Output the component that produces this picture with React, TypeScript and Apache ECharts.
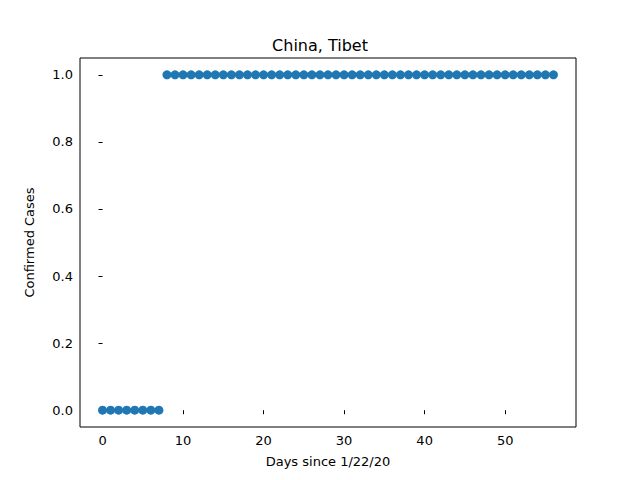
import React, { useEffect, useRef } from "react";
import * as echarts from "echarts";

const days: number[] = Array.from({ length: 57 }, (_, i) => i);
const cases: number[] = [
  0, 0, 0, 0, 0, 0, 0, 0,
  1, 1, 1, 1, 1, 1, 1, 1, 1, 1, 1, 1, 1, 1, 1, 1, 1, 1, 1, 1, 1, 1, 1, 1, 1, 1, 1, 1, 1, 1, 1, 1, 1, 1, 1, 1, 1, 1, 1, 1, 1, 1, 1, 1, 1, 1, 1, 1, 1,
];
const xTicks = [0, 10, 20, 30, 40, 50];
const yTicks = [0, 0.2, 0.4, 0.6, 0.8, 1.0];

export default function App() {
  const ref = useRef<HTMLDivElement>(null);
  useEffect(() => {
    const chart = echarts.init(ref.current!, undefined, { renderer: "svg" });
    const font = "DejaVu Sans";
    chart.setOption({
      animation: false,
      title: {
        text: "China, Tibet",
        left: "center",
        top: 32,
        textStyle: { fontFamily: font, fontSize: 16, fontWeight: "normal", color: "#000" },
      },
      grid: { left: 80, right: 64, top: 58, bottom: 53, show: true, borderColor: "#000", borderWidth: 1, backgroundColor: "#fff" },
      xAxis: {
        type: "value",
        min: -2.8,
        max: 58.8,
        name: "Days since 1/22/20",
        nameLocation: "middle",
        nameGap: 28,
        nameTextStyle: { fontFamily: font, fontSize: 13, color: "#000" },
        splitLine: { show: false },
        axisLine: { show: false },
        axisTick: { show: true, length: 4, lineStyle: { color: "#000" }, customValues: xTicks },
        axisLabel: { fontFamily: font, fontSize: 13, color: "#000", customValues: xTicks, margin: 7 },
      },
      yAxis: {
        type: "value",
        min: -0.05,
        max: 1.05,
        name: "Confirmed Cases",
        nameLocation: "middle",
        nameGap: 44,
        nameTextStyle: { fontFamily: font, fontSize: 13, color: "#000" },
        splitLine: { show: false },
        axisLine: { show: false },
        axisTick: { show: true, length: 4, lineStyle: { color: "#000" }, customValues: yTicks },
        axisLabel: {
          fontFamily: font, fontSize: 13, color: "#000", customValues: yTicks, margin: 7,
          formatter: (v: number) => v.toFixed(1),
        },
      },
      series: [
        {
          type: "scatter",
          data: days.map((d, i) => [d, cases[i]]),
          symbolSize: 9,
          itemStyle: { color: "#1f77b4", opacity: 1 },
        },
      ],
    });
    return () => chart.dispose();
  }, []);
  return <div ref={ref} style={{ position: "fixed", left: 0, top: 0, width: 640, height: 480, background: "#fff" }} />;
}
